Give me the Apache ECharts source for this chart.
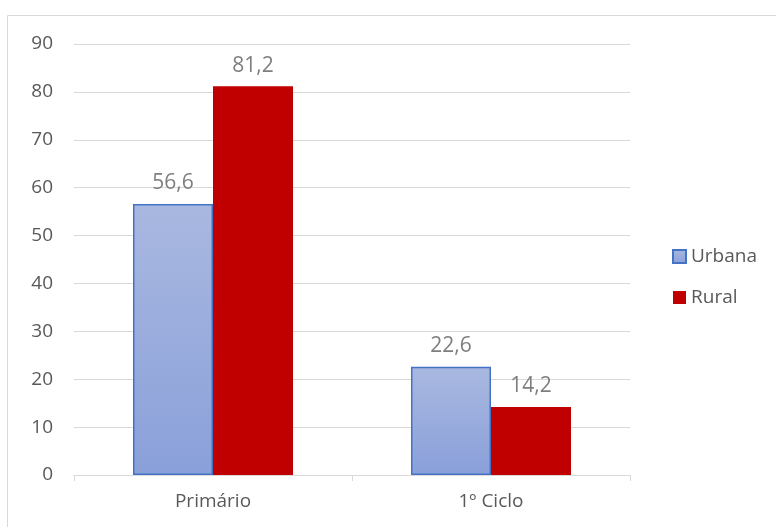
<!DOCTYPE html>
<html><head><meta charset="utf-8">
<script src="https://cdn.jsdelivr.net/npm/echarts@6/dist/echarts.min.js"></script>
<style>html,body{margin:0;padding:0;background:#fff}#c{width:776px;height:527px}</style>
</head><body><div id="c"></div>
<script>
const categories = ["Primário", "1º Ciclo"];
const urbana = [56.6, 22.6];
const rural = [81.2, 14.2];
const seriesNames = ["Urbana", "Rural"];

const FONT = '"Open Sans", sans-serif';
const chart = echarts.init(document.getElementById('c'));
const fmt = p => String(p.value).replace('.', ',');
chart.setOption({
  animation: false,
  textStyle: { fontFamily: FONT },
  graphic: [{ type: 'rect', shape: { x: 7.5, y: 15.5, width: 900, height: 700 }, style: { fill: 'none', stroke: '#d9d9d9', lineWidth: 1 } }],
  grid: { left: 74, right: 146, top: 44, bottom: 52, containLabel: false },
  legend: {
    orient: 'vertical', left: 667, top: 242, itemGap: 22, itemWidth: 13, itemHeight: 13, icon: 'rect',
    textStyle: { color: '#595959', fontSize: 19, fontFamily: FONT },
    data: seriesNames
  },
  xAxis: {
    type: 'category', data: categories,
    axisLine: { lineStyle: { color: '#d9d9d9', width: 1 } },
    axisTick: { show: true, length: 6, lineStyle: { color: '#d9d9d9' } },
    axisLabel: { color: '#595959', fontSize: 19, margin: 17, fontFamily: FONT }
  },
  yAxis: {
    type: 'value', min: 0, max: 90, interval: 10,
    axisLine: { show: false }, axisTick: { show: false },
    splitLine: { lineStyle: { color: '#d9d9d9', width: 1 } },
    axisLabel: { color: '#595959', fontSize: 19, margin: 21, fontFamily: FONT }
  },
  series: [
    { name: seriesNames[0], type: 'bar', data: urbana, barWidth: 80, barGap: '0%',
      itemStyle: { color: new echarts.graphic.LinearGradient(0, 0, 0, 1, [{ offset: 0, color: '#a9b8e0' }, { offset: 1, color: '#8aa0da' }]), borderColor: '#4472c4', borderWidth: 1.5 },
      label: { show: true, position: 'top', distance: 10, color: '#7f7f7f', fontSize: 21, fontFamily: FONT, formatter: fmt } },
    { name: seriesNames[1], type: 'bar', data: rural, barWidth: 80,
      itemStyle: { color: '#c00000' },
      label: { show: true, position: 'top', distance: 10, color: '#7f7f7f', fontSize: 21, fontFamily: FONT, formatter: fmt } }
  ]
});
</script></body></html>
